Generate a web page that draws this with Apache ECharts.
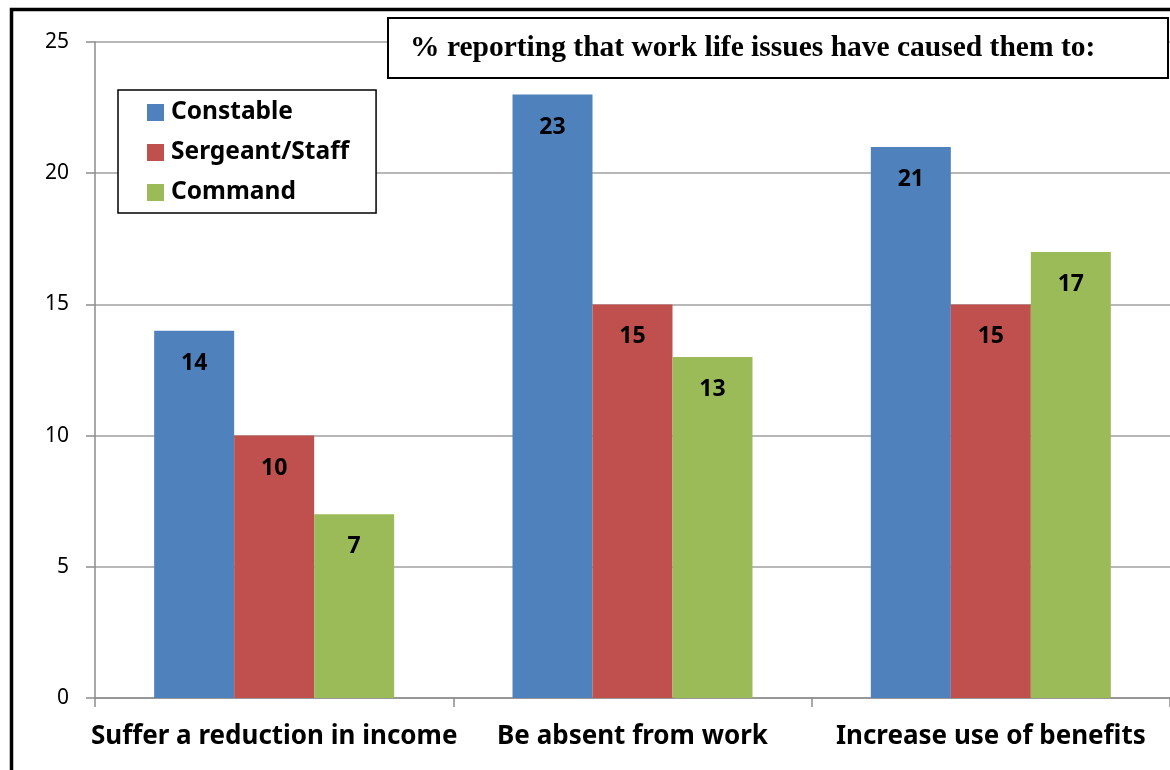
<!DOCTYPE html>
<html><head><meta charset="utf-8">
<script src="https://cdn.jsdelivr.net/npm/echarts@6/dist/echarts.min.js"></script>
<style>html,body{margin:0;padding:0;background:#fff}#c{width:1170px;height:770px}</style>
</head><body><div id="c"></div>
<script>
const categories = ['Suffer a reduction in income', 'Be absent from work', 'Increase use of benefits'];
const seriesNames = ['Constable', 'Sergeant/Staff', 'Command'];
const constable = [14, 23, 21];
const sergeant = [10, 15, 15];
const command = [7, 13, 17];
const yTicks = [0, 5, 10, 15, 20, 25];
const titleText = '% reporting that work life issues have caused them to:';
const colors = ['#4F81BD', '#C0504D', '#9BBB59'];

const chart = echarts.init(document.getElementById('c'));
const font = '"Noto Sans", "Open Sans", sans-serif';
const labelCfg = {show: true, position: 'insideTop', distance: 21, fontFamily: font, fontWeight: 'bold', fontSize: 23, color: '#000'};
const mk = (name, data, i) => ({
  name, type: 'bar', data, barWidth: 80, barGap: '0%',
  itemStyle: {color: colors[i]}, label: labelCfg
});
chart.setOption({
  animation: false,
  grid: {left: 95, right: -5, top: 42, bottom: 72, containLabel: false},
  legend: {
    orient: 'vertical', left: 118, top: 90, data: seriesNames,
    itemWidth: 17, itemHeight: 17, itemGap: 15, icon: 'rect',
    padding: [10, 27, 8, 29], borderColor: '#000', borderWidth: 1.5,
    backgroundColor: '#fff',
    textStyle: {fontFamily: font, fontWeight: 'bold', fontSize: 24.5, color: '#000', padding: [0, 0, 0, 2]}
  },
  xAxis: {
    type: 'category', data: categories,
    axisLine: {lineStyle: {color: '#8c8c8c', width: 1.5}},
    axisTick: {show: true, length: 9, lineStyle: {color: '#8c8c8c', width: 1.5}},
    axisLabel: {margin: 26, fontFamily: font, fontWeight: 'bold', fontSize: 26, color: '#000', interval: 0}
  },
  yAxis: {
    type: 'value', min: yTicks[0], max: yTicks[yTicks.length - 1], interval: 5,
    axisLine: {show: true, lineStyle: {color: '#8c8c8c', width: 1.5}},
    axisTick: {show: true, length: 9, lineStyle: {color: '#8c8c8c', width: 1.5}},
    splitLine: {lineStyle: {color: '#a0a0a0', width: 1.5}},
    axisLabel: {margin: 26, fontFamily: font, fontSize: 21, color: '#000'}
  },
  series: [mk(seriesNames[0], constable, 0), mk(seriesNames[1], sergeant, 1), mk(seriesNames[2], command, 2)],
  graphic: [
    {type: 'rect', z: 100, shape: {x: 11.5, y: 9.5, width: 1300, height: 900}, style: {fill: null, stroke: '#000', lineWidth: 3.5}},
    {type: 'rect', z: 100, shape: {x: 388, y: 18, width: 780, height: 60}, style: {fill: '#fff', stroke: '#000', lineWidth: 2}},
    {type: 'text', z: 101, left: 410, top: 33, style: {text: titleText, font: 'bold 29.5px "Liberation Serif", "Times New Roman", serif', fill: '#000'}}
  ]
});
</script></body></html>
